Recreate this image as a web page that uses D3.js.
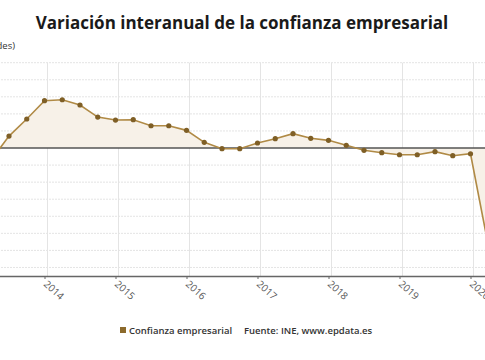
<!DOCTYPE html>
<html><head><meta charset="utf-8">
<script src="https://cdn.jsdelivr.net/npm/d3@7"></script>
<style>
body{margin:0;background:#fff}
svg{display:block;font-family:"Open Sans",sans-serif}
</style></head><body>
<svg id="c" width="485" height="360"></svg>
<script>
// Data (quarterly interannual variation, %)
const quarters = ["2013T2","2013T3","2013T4","2014T1","2014T2","2014T3","2014T4",
  "2015T1","2015T2","2015T3","2015T4","2016T1","2016T2","2016T3","2016T4",
  "2017T1","2017T2","2017T3","2017T4","2018T1","2018T2","2018T3","2018T4",
  "2019T1","2019T2","2019T3","2019T4","2020T1","2020T2"];
const values = [-1.4,1.4,3.4,5.55,5.66,5.04,3.63,
  3.28,3.32,2.61,2.61,2.07,0.67,-0.08,-0.08,
  0.59,1.09,1.68,1.14,0.9,0.32,-0.27,-0.55,
  -0.79,-0.79,-0.43,-0.9,-0.67,-11.4];
const yearLabels = ["2014","2015","2016","2017","2018","2019","2020"];
const yTicks = [-14,-12,-10,-8,-6,-4,-2,0,2,4,6,8,10];
const seriesName = "Confianza empresarial";
const source = "Fuente: INE, www.epdata.es";
const title = "Variación interanual de la confianza empresarial";
const unitLabel = "(Variación en unidades)";

const W = 485, H = 360;
const svg = d3.select("#c");
svg.append("rect").attr("width",W).attr("height",H).attr("fill","#fff");

// The plot area is wider than the visible frame (cropped chart)
const x = d3.scaleLinear().domain([0, quarters.length-1]).range([-8.75, 488.25]);
const y = d3.scaleLinear().domain([-15, 10]).range([276, 62.7]);
const plotL = -20, plotR = 500;

// title
svg.append("text").attr("x", 242).attr("y", 29).attr("text-anchor","middle")
  .attr("font-size", 17).attr("font-weight", 700).attr("fill","#1a1a1a").text(title);
svg.append("text").attr("x", 15).attr("y", 49).attr("text-anchor","end")
  .attr("font-size", 9.5).attr("fill","#333").text(unitLabel);

// gridlines
const g = svg.append("g");
g.selectAll("line.h").data(yTicks.filter(v=>v!==0)).join("line")
  .attr("x1", plotL).attr("x2", plotR).attr("y1", d=>y(d)).attr("y2", d=>y(d))
  .attr("stroke","#e4e4e4").attr("stroke-width",1).attr("stroke-dasharray","2,1");
const yearIdx = yearLabels.map(yr => quarters.indexOf(yr+"T1"));
g.selectAll("line.v").data(yearIdx).join("line")
  .attr("x1", d=>x(d)+3).attr("x2", d=>x(d)+3).attr("y1", y(10)).attr("y2", y(-15))
  .attr("stroke","#e4e4e4").attr("stroke-width",1);

// area to zero
const pts = values.map((v,i)=>[i,v]);
svg.append("path").datum(pts)
  .attr("d", d3.area().x(d=>x(d[0])).y0(y(0)).y1(d=>y(d[1])))
  .attr("fill","#f7f1e8");

// zero line
svg.append("line").attr("x1",plotL).attr("x2",plotR).attr("y1",y(0)).attr("y2",y(0))
  .attr("stroke","#555").attr("stroke-width",1.3);

// axis
const ax = svg.append("g").attr("transform",`translate(0,${y(-15)})`)
  .call(d3.axisBottom(x).tickValues(yearIdx).tickFormat((d,i)=>yearLabels[i]).tickSize(3).tickSizeOuter(0));
ax.select(".domain").attr("stroke","#666").attr("stroke-width",1.5);
ax.selectAll(".tick line").attr("stroke","#666");
ax.selectAll(".tick text").attr("fill","#555").attr("font-size",10)
  .attr("font-family","'Open Sans',sans-serif")
  .attr("text-anchor","start").attr("dy",0).attr("y",0)
  .attr("transform","translate(-2,9) rotate(42)");

// line
svg.append("path").datum(pts)
  .attr("d", d3.line().x(d=>x(d[0])).y(d=>y(d[1])))
  .attr("fill","none").attr("stroke","#b08a45").attr("stroke-width",1.6);
svg.selectAll("circle.p").data(pts).join("circle")
  .attr("cx", d=>x(d[0])).attr("cy", d=>y(d[1])).attr("r",2.6).attr("fill","#7f5f26");

// legend
const lg = svg.append("g").attr("transform","translate(120,334)");
lg.append("rect").attr("x",0).attr("y",-7).attr("width",6).attr("height",6).attr("fill","#8c6a2c");
lg.append("text").attr("x",9).attr("y",0).attr("font-size",9.5).attr("font-weight",600).attr("fill","#333").text(seriesName);
lg.append("text").attr("x",124).attr("y",0).attr("font-size",9.5).attr("font-weight",600).attr("fill","#333").text(source);
</script>
</body></html>
